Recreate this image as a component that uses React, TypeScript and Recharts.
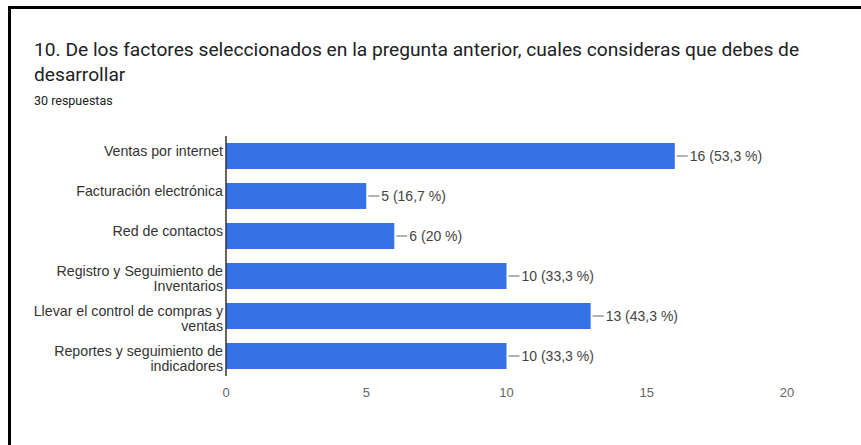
import React from 'react';
import { BarChart, Bar, XAxis, YAxis, LabelList, Text } from 'recharts';

const categories = [
  'Ventas por internet',
  'Facturación electrónica',
  'Red de contactos',
  'Registro y Seguimiento de Inventarios',
  'Llevar el control de compras y ventas',
  'Reportes y seguimiento de indicadores',
];
const counts = [16, 5, 6, 10, 13, 10];
const percents = ['53,3 %', '16,7 %', '20 %', '33,3 %', '43,3 %', '33,3 %'];
const xTicks = [0, 5, 10, 15, 20];

const data = categories.map((name, i) => ({
  name,
  value: counts[i],
  label: `${counts[i]} (${percents[i]})`,
}));

const BLUE = '#3572e6';

const CategoryTick = ({ x, y, payload }: any) => (
  <Text
    x={x + 5}
    y={y}
    width={205}
    textAnchor="end"
    verticalAnchor="middle"
    lineHeight={15}
    fontSize={14.2}
    fontFamily="'Liberation Sans', Arial, sans-serif"
    fill="#333"
  >
    {payload.value}
  </Text>
);

const BarLabel = ({ x, y, width, height, value }: any) => {
  const ex = x + width;
  const cy = y + height / 2;
  return (
    <g>
      <line x1={ex + 2} y1={cy} x2={ex + 13} y2={cy} stroke="#666" strokeWidth={1} />
      <text
        x={ex + 15}
        y={cy}
        dominantBaseline="central"
        fontSize={14}
        fontFamily="'Liberation Sans', Arial, sans-serif"
        fill="#444"
      >
        {value}
      </text>
    </g>
  );
};

export default function App() {
  return (
    <div style={{ position: 'relative', width: 861, height: 445, background: '#fff', overflow: 'hidden' }}>
      <style>{`body{margin:0}`}</style>
      <div
        style={{
          position: 'absolute',
          left: 8,
          top: 6,
          right: 0,
          bottom: 0,
          borderTop: '3px solid #000',
          borderLeft: '3px solid #000',
        }}
      />
      <div
        style={{
          position: 'absolute',
          left: 34,
          top: 37,
          width: 800,
          fontFamily: 'Roboto, sans-serif',
          fontSize: 19.2,
          lineHeight: '25px',
          color: '#202124',
        }}
      >
        10. De los factores seleccionados en la pregunta anterior, cuales consideras que debes de desarrollar
      </div>
      <div
        style={{
          position: 'absolute',
          left: 34,
          top: 93,
          fontFamily: 'Roboto, sans-serif',
          fontSize: 12.5,
          color: '#202124',
        }}
      >
        30 respuestas
      </div>
      <div style={{ position: 'absolute', left: 0, top: 0 }}>
        <BarChart
          width={861}
          height={445}
          data={data}
          layout="vertical"
          margin={{ top: 136, right: 74, bottom: 39, left: 8 }}
          barSize={26}
        >
          <XAxis
            type="number"
            domain={[0, 20]}
            ticks={xTicks}
            axisLine={false}
            tickLine={false}
            tickMargin={6}
            height={30}
            tick={{ fontSize: 13, fill: '#666', fontFamily: "'Liberation Sans', Arial, sans-serif" }}
          />
          <YAxis
            type="category"
            dataKey="name"
            width={218}
            axisLine={{ stroke: '#333', strokeWidth: 1.5 }}
            tickLine={false}
            tick={<CategoryTick />}
            interval={0}
          />
          <Bar dataKey="value" fill={BLUE} isAnimationActive={false}>
            <LabelList dataKey="label" content={<BarLabel />} />
          </Bar>
        </BarChart>
      </div>
    </div>
  );
}
